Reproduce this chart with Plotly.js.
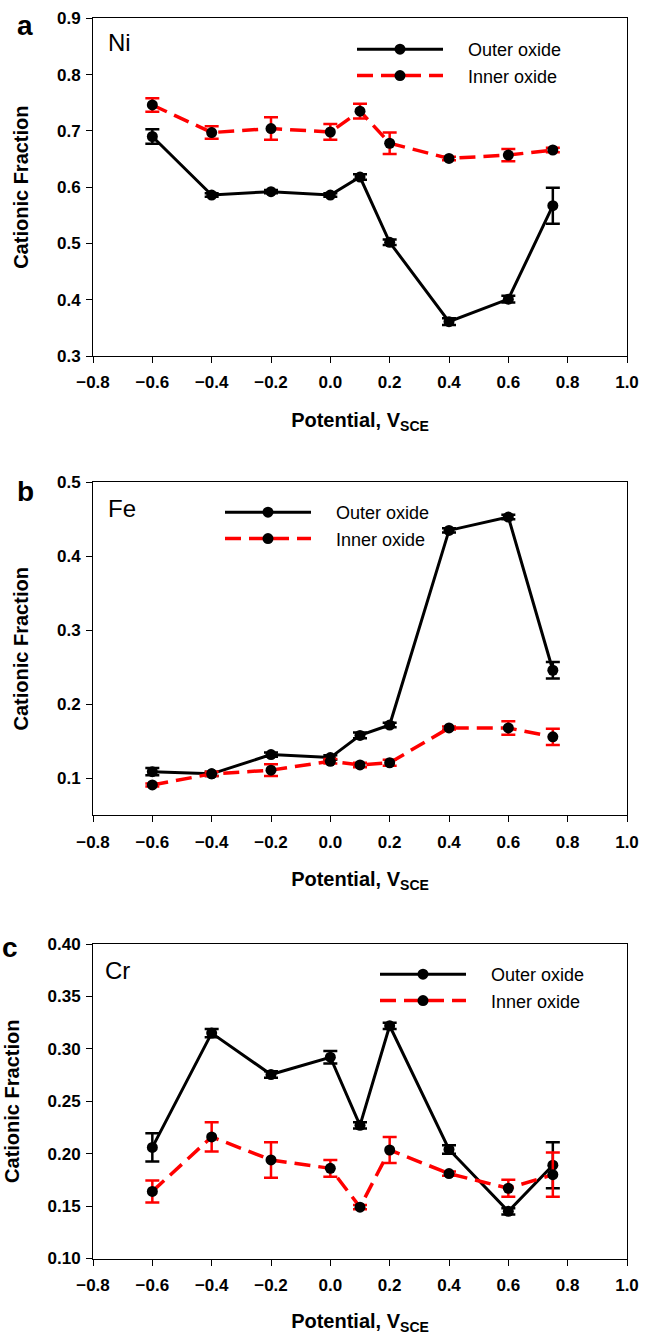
<!DOCTYPE html>
<html>
<head>
<meta charset="utf-8">
<script src="https://cdn.plot.ly/plotly-3.0.1.min.js"></script>
<style>
  html, body { margin: 0; padding: 0; background: #fff; }
  #chart { width: 650px; height: 1335px; }
</style>
</head>
<body>
<div id="chart"></div>
<script>
// ---------------- DATA ----------------
const potential = [-0.6, -0.4, -0.2, 0.0, 0.1, 0.2, 0.4, 0.6, 0.75];
const seriesNames = ['Outer oxide', 'Inner oxide'];
const elements = ['Ni', 'Fe', 'Cr'];
const panelLetters = ['a', 'b', 'c'];

// Ni
const niOuter    = [0.690, 0.586, 0.592, 0.586, 0.618, 0.502, 0.361, 0.401, 0.567];
const niOuterErr = [0.013, 0.003, 0.003, 0.003, 0.005, 0.005, 0.006, 0.006, 0.032];
const niInner    = [0.746, 0.697, 0.704, 0.698, 0.735, 0.678, 0.651, 0.657, 0.666];
const niInnerErr = [0.012, 0.011, 0.020, 0.014, 0.013, 0.019, 0.003, 0.011, 0.004];

// Fe
const feOuter    = [0.109, 0.106, 0.132, 0.128, 0.158, 0.172, 0.435, 0.453, 0.246];
const feOuterErr = [0.005, 0.003, 0.003, 0.003, 0.004, 0.003, 0.003, 0.003, 0.011];
const feInner    = [0.091, 0.106, 0.111, 0.123, 0.118, 0.121, 0.168, 0.168, 0.156];
const feInnerErr = [0.002, 0.003, 0.008, 0.003, 0.003, 0.004, 0.002, 0.009, 0.011];

// Cr
const crOuter    = [0.206, 0.315, 0.2755, 0.292, 0.227, 0.322, 0.204, 0.145, 0.189];
const crOuterErr = [0.0135, 0.004, 0.003, 0.006, 0.003, 0.003, 0.004, 0.003, 0.022];
const crInner    = [0.164, 0.216, 0.194, 0.186, 0.149, 0.2035, 0.181, 0.167, 0.180];
const crInnerErr = [0.0105, 0.014, 0.017, 0.008, 0.002, 0.0125, 0.002, 0.008, 0.021];

const xRange = [-0.8, 1.0];
const yRanges = [[0.3, 0.9], [0.05, 0.5], [0.10, 0.40]];
const yDticks = [0.1, 0.1, 0.05];
const yFormats = ['.1f', '.1f', '.2f'];
const xTitle = '<b>Potential, V<sub>SCE</sub></b>';
const yTitle = '<b>Cationic Fraction</b>';

// ---------------- LAYOUT GEOMETRY (pixels) ----------------
const W = 650, H = 1335;
const plotLeft = 93, plotRight = 627;
const panelPx = [[18.3, 356], [482.3, 815.3], [944, 1258.5]]; // [top, bottom]
const legendTopPx = [31, 494, 956];
const legendLeftPx = [352, 220, 375];
const labelPosPx = [[106, 43], [106, 509], [103, 971]];
const letterPosPx = [[25, 25], [25, 492], [10, 947]];

const px2x = p => (p - plotLeft) / (plotRight - plotLeft);
const px2y = p => 1 - p / H;

const FONT = 'Liberation Sans, Arial, Helvetica, sans-serif';
const LEG_GAP = '&nbsp;&nbsp;&nbsp;&nbsp;';

const outerData = [[niOuter, niOuterErr], [feOuter, feOuterErr], [crOuter, crOuterErr]];
const innerData = [[niInner, niInnerErr], [feInner, feInnerErr], [crInner, crInnerErr]];

const traces = [];
for (let k = 0; k < 3; k++) {
  const sfx = k === 0 ? '' : String(k + 1);
  traces.push({
    type: 'scatter', mode: 'lines+markers', name: LEG_GAP + seriesNames[0],
    x: potential, y: outerData[k][0],
    error_y: { type: 'data', array: outerData[k][1], visible: true, color: '#000', thickness: 2.5, width: 7 },
    line: { color: '#000', width: 3 },
    marker: { color: '#000', size: 11 },
    xaxis: 'x' + sfx, yaxis: 'y' + sfx, legend: 'legend' + sfx
  });
  traces.push({
    type: 'scatter', mode: 'lines+markers', name: LEG_GAP + seriesNames[1],
    x: potential, y: innerData[k][0],
    error_y: { type: 'data', array: innerData[k][1], visible: true, color: '#ff0000', thickness: 2.5, width: 7 },
    line: { color: '#ff0000', width: 3.5, dash: '16px,8px' },
    marker: { color: '#000', size: 11 },
    xaxis: 'x' + sfx, yaxis: 'y' + sfx, legend: 'legend' + sfx
  });
}

const layout = {
  width: W, height: H,
  margin: { l: plotLeft, r: W - plotRight, t: 0, b: 0 },
  paper_bgcolor: '#fff', plot_bgcolor: '#fff',
  font: { family: FONT, color: '#000' },
  showlegend: true,
  annotations: []
};

for (let k = 0; k < 3; k++) {
  const sfx = k === 0 ? '' : String(k + 1);
  const [top, bot] = panelPx[k];
  layout['xaxis' + sfx] = {
    domain: [0, 1], anchor: 'y' + sfx, range: xRange, dtick: 0.2, tick0: 0,
    tickformat: '.1f', ticks: 'outside', ticklen: 6, tickwidth: 1, tickcolor: '#000',
    ticklabelstandoff: 5,
    showline: true, linecolor: '#000', linewidth: 1, mirror: true,
    showgrid: false, zeroline: false, automargin: false,
    tickfont: { family: FONT, size: 17, weight: 'bold', color: '#000' },
    title: { text: xTitle, font: { family: FONT, size: 20, color: '#000' }, standoff: 21 }
  };
  layout['yaxis' + sfx] = {
    domain: [px2y(bot), px2y(top)], anchor: 'x' + sfx, range: yRanges[k],
    dtick: yDticks[k], tick0: 0, tickformat: yFormats[k],
    ticks: 'outside', ticklen: 6, tickwidth: 1, tickcolor: '#000',
    ticklabelstandoff: 2,
    showline: true, linecolor: '#000', linewidth: 1, mirror: true,
    showgrid: false, zeroline: false, automargin: false,
    tickfont: { family: FONT, size: 17, weight: 'bold', color: '#000' },
    title: { text: yTitle, font: { family: FONT, size: 20, color: '#000' }, standoff: 22 }
  };
  layout['legend' + sfx] = {
    x: px2x(legendLeftPx[k]), y: px2y(legendTopPx[k]), xanchor: 'left', yanchor: 'top',
    xref: 'paper', yref: 'paper',
    bgcolor: 'rgba(0,0,0,0)', borderwidth: 0,
    font: { family: FONT, size: 18, color: '#000' },
    itemwidth: 86, tracegroupgap: 0
  };
  layout.annotations.push({
    xref: 'paper', yref: 'paper', x: px2x(labelPosPx[k][0]), y: px2y(labelPosPx[k][1]),
    xanchor: 'left', yanchor: 'middle', showarrow: false, text: elements[k],
    font: { family: FONT, size: 24, color: '#000' }
  });
  layout.annotations.push({
    xref: 'paper', yref: 'paper', x: px2x(letterPosPx[k][0]), y: px2y(letterPosPx[k][1]),
    xanchor: 'center', yanchor: 'middle', showarrow: false, text: '<b>' + panelLetters[k] + '</b>',
    font: { family: FONT, size: 28, color: '#000' }
  });
}

Plotly.newPlot('chart', traces, layout, { displayModeBar: false, staticPlot: true });
</script>
</body>
</html>
